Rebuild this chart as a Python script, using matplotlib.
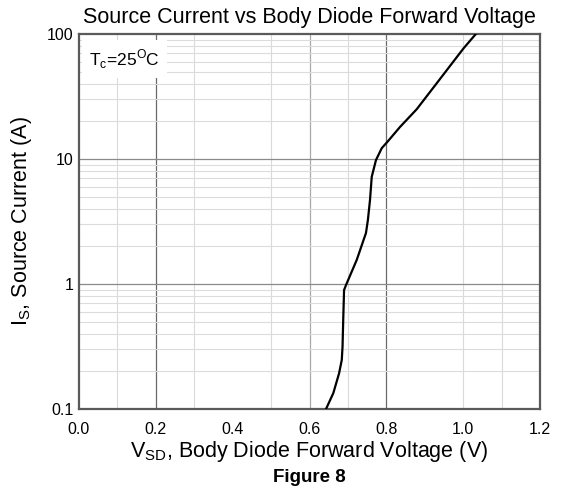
import matplotlib
matplotlib.use("Agg")
import matplotlib.pyplot as plt
import numpy as np

plt.rcParams['font.family'] = ['Liberation Sans', 'DejaVu Sans']
plt.rcParams['mathtext.fontset'] = 'custom'
plt.rcParams['mathtext.rm'] = 'Liberation Sans'

# curve
vsd = [0.643, 0.662, 0.677, 0.684, 0.686, 0.688, 0.690, 0.695, 0.723, 0.747,
       0.752, 0.7575, 0.762, 0.773, 0.788, 0.8026, 0.836, 0.879, 0.931, 1.001, 1.033]
i_s = [0.10, 0.134, 0.193, 0.247, 0.315, 0.548, 0.895, 0.98, 1.56, 2.56,
       3.25, 4.7, 7.2, 9.8, 12.2, 13.7, 18.1, 25.0, 40.3, 76.8, 100.0]

xticks = [0.0, 0.2, 0.4, 0.6, 0.8, 1.0, 1.2]
yticks = [0.1, 1, 10, 100]
ytick_labels = ["0.1", "1", "10", "100"]

fig = plt.figure(figsize=(5.61, 4.95), dpi=100)
ax = fig.add_axes([79 / 561, 1 - 409 / 495, (540 - 79) / 561, (409 - 34) / 495])

ax.set_yscale("log")
ax.set_xlim(0, 1.2)
ax.set_ylim(0.1, 100)

# grid
for x in [0.1, 0.3, 0.5, 0.7, 1.0, 1.1]:
    ax.axvline(x, color="#dadada", lw=0.8, zorder=0)
ax.axvline(0.6, color="#a8a8a8", lw=0.9, zorder=0)
for x in [0.2, 0.8]:
    ax.axvline(x, color="#6a6a6a", lw=0.9, zorder=0)
for dec in [0.1, 1, 10]:
    for m in range(2, 10):
        ax.axhline(dec * m, color="#dcdcdc", lw=0.8, zorder=0)
for y in [1, 10]:
    ax.axhline(y, color="#8a8a8a", lw=0.9, zorder=0)

ax.plot(vsd, i_s, color="black", lw=1.6, zorder=3)

ax.set_xticks(xticks)
ax.set_xticklabels([f"{v:.1f}" for v in xticks])
ax.set_yticks(yticks)
ax.set_yticklabels(ytick_labels)
ax.yaxis.set_minor_locator(matplotlib.ticker.NullLocator())
ax.tick_params(axis="x", length=0, labelsize=11.5, pad=9)
ax.tick_params(axis="y", length=0, labelsize=11.5, pad=4)
for s in ax.spines.values():
    s.set_color("#5a5a5a")
    s.set_linewidth(1.6)

ax.set_title("Source Current vs Body Diode Forward Voltage", fontsize=15.5, pad=8)
ax.set_xlabel(r"V$_\mathregular{SD}$, Body Diode Forward Voltage (V)", fontsize=15.5, labelpad=2)
ax.set_ylabel(r"I$_\mathregular{S}$, Source Current (A)", fontsize=15.5, labelpad=9)

ax.text(0.022, 0.965, r"T$_\mathregular{c}$=25$^\mathregular{O}$C", transform=ax.transAxes,
        fontsize=12.5, va="top", ha="left", zorder=4,
        bbox=dict(facecolor="white", edgecolor="none", pad=5))

fig.text(0.5 * (79 + 540) / 561, 1 - 478 / 495, "Figure 8", fontsize=13.5, fontweight="bold",
         ha="center", va="center")

fig.savefig("out.png", dpi=100)
